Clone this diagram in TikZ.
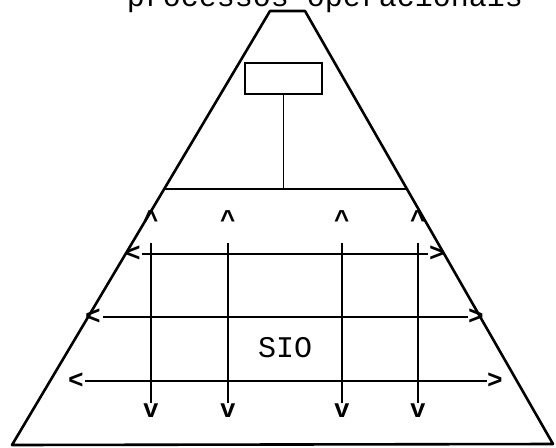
\documentclass[tikz,border=0pt]{standalone}
\usepackage{fontspec}
\setmonofont{Liberation Mono}
\begin{document}
\begin{tikzpicture}[x=1pt,y=-1pt,
  outline/.style={line width=2.6pt, line join=round},
  gridline/.style={line width=1.9pt},
  mono/.style={font=\ttfamily\fontsize{30}{30}\selectfont, inner sep=0pt},
  markchar/.style={font=\ttfamily\bfseries\fontsize{26}{26}\selectfont, inner sep=0pt},
  topbox/.style={draw, line width=2pt, minimum width=77pt, minimum height=31pt, inner sep=0pt}]
\useasboundingbox (0,0) rectangle (556,447);
% pyramid
\draw[outline] (12,445) -- (270,11) -- (305,11) -- (553,444) -- cycle;
% divider
\coordinate (dl) at (163.6,189);
\coordinate (dr) at (407.5,189);
\draw[gridline] (dl) -- (dr);
% top box and stem
\node[topbox] (box) at (283.5,78.5) {};
\coordinate (stemfoot) at (283.5,189);
\draw[gridline] (box.south) -- (stemfoot);
% title
\node[mono, anchor=base] (title) at (325,6) {processos operacionais};
% vertical lines
\foreach \i/\x in {1/151,2/228,3/342,4/418}{
  \coordinate (vt\i) at (\x,243);
  \coordinate (vb\i) at (\x,403);
  \draw[gridline] (vt\i) -- (vb\i);
  \node[markchar] (up\i) at (\x,220) {\^{}};
  \node[markchar] (dn\i) at (\x,411) {v};
}
% horizontal lines
\foreach \i/\y/\xa/\xb/\la/\lb in {1/254/142/428/133/437, 2/317/103/468/93/476, 3/381/85/487/76/495}{
  \coordinate (hl\i) at (\xa,\y);
  \coordinate (hr\i) at (\xb,\y);
  \draw[gridline] (hl\i) -- (hr\i);
  \node[markchar] (lt\i) at (\la,\y) {<};
  \node[markchar] (gt\i) at (\lb,\y) {>};
}
\node[mono] (sio) at (285,348) {SIO};
\end{tikzpicture}
\end{document}
